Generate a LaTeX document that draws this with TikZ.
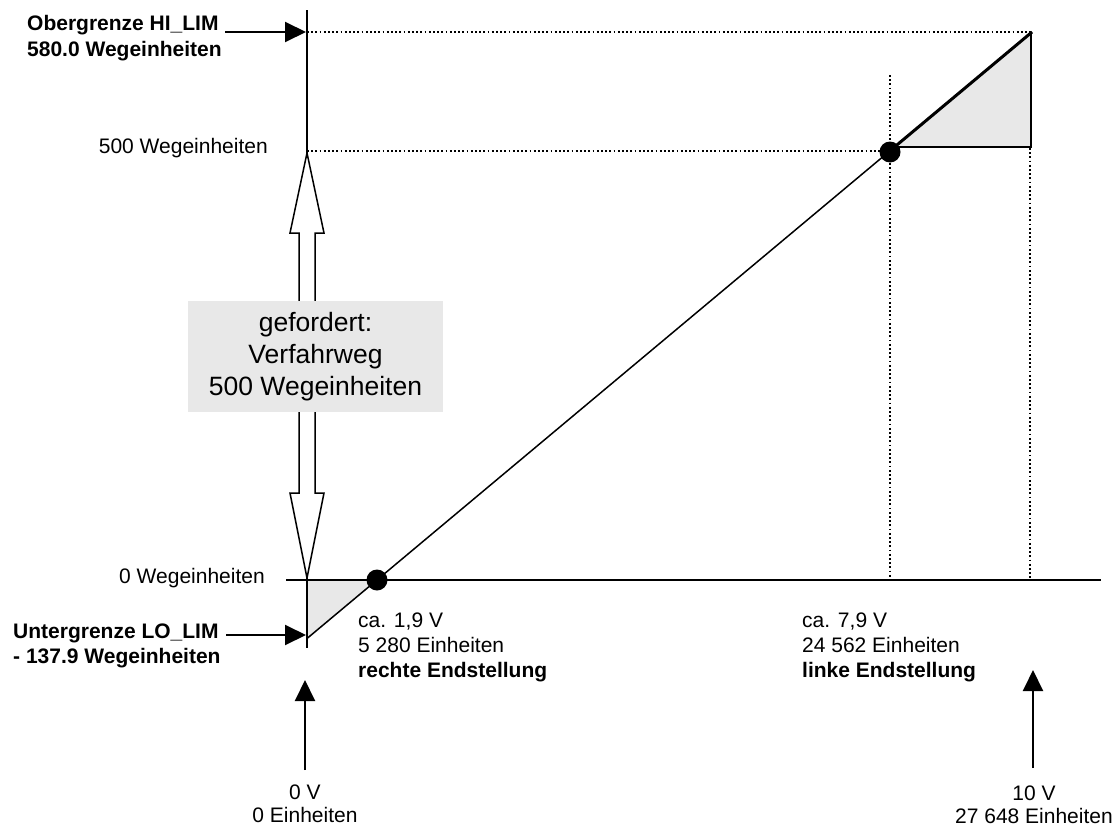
\documentclass[tikz,border=0pt]{standalone}
\usepackage{fontspec}
\setmainfont{Liberation Sans}
\usetikzlibrary{arrows.meta}
\definecolor{lightfill}{HTML}{E8E8E8}
\tikzset{
  axisline/.style={line width=2pt},
  curveline/.style={line width=1.5pt},
  guideline/.style={line width=1.8pt, dash pattern=on 1.8pt off 2.4pt},
  pointer/.style={line width=2pt, -{Triangle[length=21pt,width=20pt]}},
  lbl/.style={inner sep=0pt, font=\fontsize{21}{25}\selectfont, align=left},
  lblc/.style={inner sep=0pt, font=\fontsize{21}{23}\selectfont, align=center},
  bluebox/.style={fill=lightfill, minimum width=255pt, minimum height=111pt, inner sep=0pt,
    font=\fontsize{26.5}{32}\selectfont, align=center},
  endpoint/.style={circle, fill=black, minimum size=21pt, inner sep=0pt},
}
\begin{document}
\begin{tikzpicture}[x=1pt,y=-1pt]
\useasboundingbox (0,0) rectangle (1117,827);

% coordinates
\coordinate (ytop) at (307,10);
\coordinate (ybot) at (307,648);
\coordinate (xleft) at (286,580);
\coordinate (xright) at (1101,580);
\coordinate (lostart) at (307,638.5);
\coordinate (hiend) at (1032,32);
\coordinate (origin) at (307,580);
\coordinate (y500) at (307,151);
\coordinate (yhi) at (307,32);
\coordinate (tlA) at (894.5,147);
\coordinate (tlB) at (1031,147);
\coordinate (tlC) at (1031,32.5);
\coordinate (v1top) at (890,75);
\coordinate (v1bot) at (890,580);
\coordinate (v2top) at (1030,148);
\coordinate (v2bot) at (1030,580);
\coordinate (hiA) at (225,32);
\coordinate (hiB) at (306,32);
\coordinate (loA) at (226,635);
\coordinate (loB) at (306,635);
\coordinate (b0A) at (305,770);
\coordinate (b0B) at (305,680);
\coordinate (b10A) at (1033,768);
\coordinate (b10B) at (1033,670);

% shaded triangles
\fill[lightfill] (origin) -- (377,580) -- (lostart) -- cycle;
\fill[lightfill] (tlA) -- (tlB) -- (tlC) -- cycle;
\draw[line width=1.5pt, line join=miter] (tlA) -- (tlB) -- (tlC);

% guides
\draw[guideline] (yhi) -- (hiend);
\draw[guideline] (y500) -- (888,151);
\draw[guideline] (v1top) -- (v1bot);
\draw[guideline] (v2top) -- (v2bot);

% axes
\draw[axisline] (ytop) -- (ybot);
\draw[axisline] (xleft) -- (xright);

% characteristic line
\draw[curveline] (lostart) -- (hiend);
\draw[line width=3pt] (tlA) -- (hiend);

% double arrow
\draw[line width=1.5pt, fill=white, line join=miter]
  (307,153) -- (324,233) -- (315,233) -- (315,493) -- (324,493) -- (307,578)
  -- (290,493) -- (299,493) -- (299,233) -- (290,233) -- cycle;

\node[bluebox] (req) at (315.5,356.5) {gefordert:\\Verfahrweg\\500 Wegeinheiten};

% end points
\node[endpoint] (p1) at (377,580) {};
\node[endpoint] (p2) at (890,152) {};

% pointers
\draw[pointer] (hiA) -- (hiB);
\draw[pointer] (loA) -- (loB);
\draw[pointer] (b0A) -- (b0B);
\draw[pointer] (b10A) -- (b10B);

% labels (base anchor = baseline of the last line)
\node[lbl, anchor=base west] (hilbl) at (27,56) {\bfseries Obergrenze HI\_LIM\\\bfseries 580.0 Wegeinheiten};
\node[lbl, anchor=base east] (l500) at (268,153) {500 Wegeinheiten};
\node[lbl, anchor=base east] (l0) at (265,583) {0 Wegeinheiten};
\node[lbl, anchor=base west] (lolbl) at (13,663) {\bfseries Untergrenze LO\_LIM\\\bfseries - 137.9 Wegeinheiten};
\node[lbl, anchor=base west] (rlbl) at (358,677) {ca. 1,9 V\\5 280 Einheiten\\\bfseries rechte Endstellung};
\node[lbl, anchor=base west] (llbl) at (802,677) {ca. 7,9 V\\24 562 Einheiten\\\bfseries linke Endstellung};
\node[lblc, anchor=base] (zlbl) at (305,822) {0 V\\0 Einheiten};
\node[lblc, anchor=base] (tlbl) at (1034,823) {10 V\\27 648 Einheiten};
\end{tikzpicture}
\end{document}
